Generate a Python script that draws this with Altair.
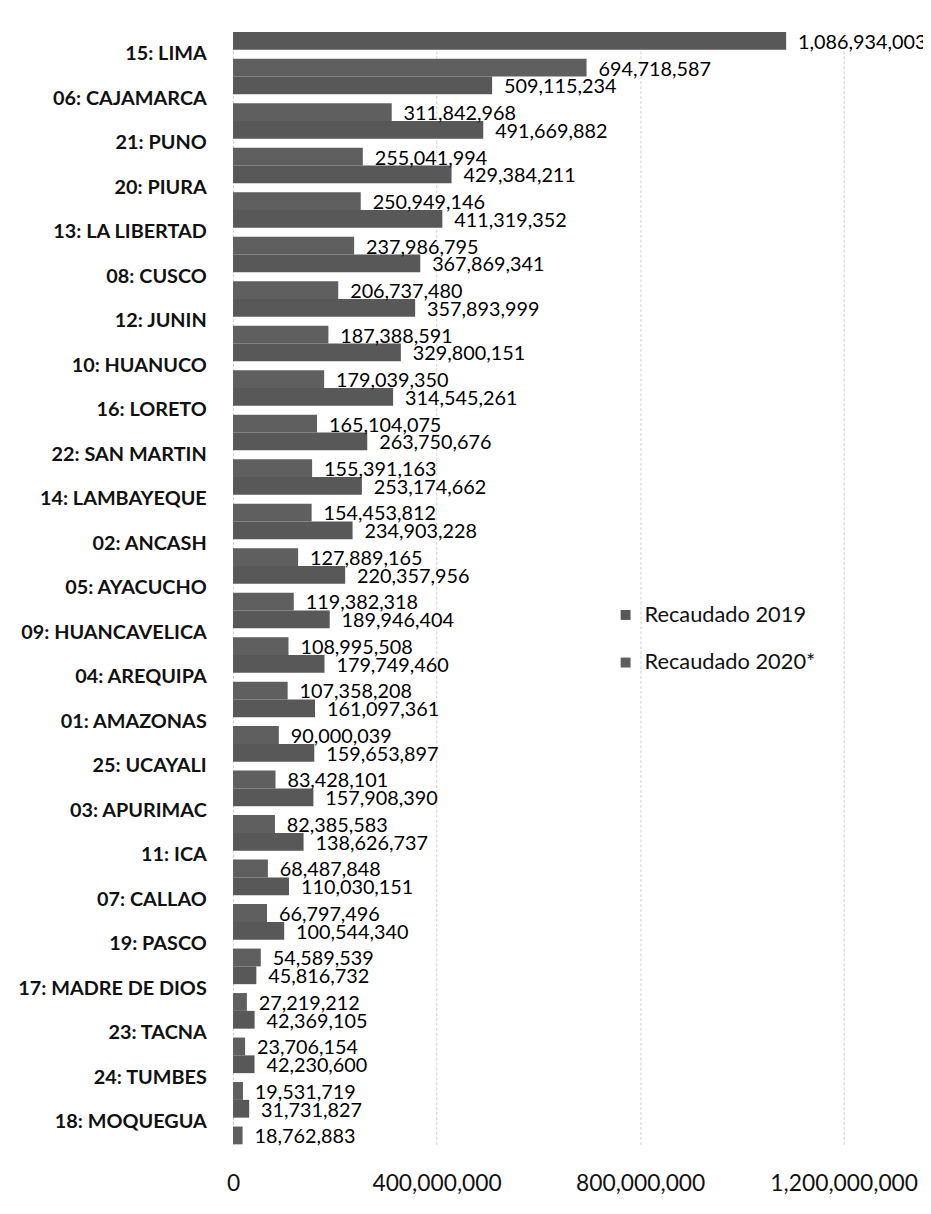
import altair as alt
import pandas as pd

categories = ["15: LIMA", "06: CAJAMARCA", "21: PUNO", "20: PIURA", "13: LA LIBERTAD",
              "08: CUSCO", "12: JUNIN", "10: HUANUCO", "16: LORETO", "22: SAN MARTIN",
              "14: LAMBAYEQUE", "02: ANCASH", "05: AYACUCHO", "09: HUANCAVELICA",
              "04: AREQUIPA", "01: AMAZONAS", "25: UCAYALI", "03: APURIMAC", "11: ICA",
              "07: CALLAO", "19: PASCO", "17: MADRE DE DIOS", "23: TACNA", "24: TUMBES",
              "18: MOQUEGUA"]

recaudado_2019 = [1086934003, 509115234, 491669882, 429384211, 411319352, 367869341,
                  357893999, 329800151, 314545261, 263750676, 253174662, 234903228,
                  220357956, 189946404, 179749460, 161097361, 159653897, 157908390,
                  138626737, 110030151, 100544340, 45816732, 42369105, 42230600, 31731827]

recaudado_2020 = [694718587, 311842968, 255041994, 250949146, 237986795, 206737480,
                  187388591, 179039350, 165104075, 155391163, 154453812, 127889165,
                  119382318, 108995508, 107358208, 90000039, 83428101, 82385583,
                  68487848, 66797496, 54589539, 27219212, 23706154, 19531719, 18762883]

series = ["Recaudado 2019", "Recaudado 2020*"]
tick_values = [0, 400000000, 800000000, 1200000000]

rows = []
for c, a, b in zip(categories, recaudado_2019, recaudado_2020):
    rows.append({"cat": c, "year": series[0], "value": a})
    rows.append({"cat": c, "year": series[1], "value": b})
df = pd.DataFrame(rows)

FONT = "Lato"

y_scale = alt.Scale(domain=categories, paddingInner=0, paddingOuter=0)
yoff_scale = alt.Scale(domain=series, paddingInner=0.333, paddingOuter=0)
x_scale = alt.Scale(domain=[0, 1200000000], nice=False)

y_axis = alt.Axis(title=None, ticks=False, domain=False, labelFont=FONT,
                  labelFontSize=20, labelFontWeight="bold", labelColor="#111111",
                  labelPadding=27, labelLimit=0)
x_axis = alt.Axis(title=None, values=tick_values, labelExpr="format(datum.value, ',')",
                  ticks=False, domain=False, labelFont=FONT, labelFontSize=23,
                  labelColor="#111111", labelPadding=29, labelFlush=False,
                  labelOverlap=False, grid=True,
                  gridColor="#d0d0d0", gridDash=[3, 2], gridWidth=1)

base = alt.Chart(df)

bars = base.mark_bar().encode(
    y=alt.Y("cat:N", sort=categories, scale=y_scale, axis=y_axis),
    yOffset=alt.YOffset("year:N", sort=series, scale=yoff_scale),
    x=alt.X("value:Q", scale=x_scale, axis=x_axis),
    color=alt.Color("year:N", sort=series,
                    scale=alt.Scale(domain=series, range=["#585858", "#5f5f5f"]),
                    legend=alt.Legend(title=None, orient="none", legendX=385, legendY=577,
                                      symbolType="square", symbolSize=100,
                                      symbolStrokeWidth=0, labelFont=FONT,
                                      labelFontSize=22, labelColor="#111111",
                                      rowPadding=26, labelOffset=8, labelLimit=0)),
)

labels = base.mark_text(align="left", baseline="middle", dx=12, dy=2, fontSize=20,
                        font=FONT, color="#000000").encode(
    y=alt.Y("cat:N", sort=categories, scale=y_scale, axis=y_axis),
    yOffset=alt.YOffset("year:N", sort=series, scale=yoff_scale),
    x=alt.X("value:Q", scale=x_scale, axis=x_axis),
    text=alt.Text("value:Q", format=","),
)

chart = alt.layer(bars, labels).properties(
    width=616,
    height=1122,
    autosize=alt.AutoSizeParams(type="none"),
    padding={"left": 227, "top": 19, "right": 80, "bottom": 65},
    background="white",
).configure_view(stroke=None)

chart.save("out.html", embed_options={"renderer": "svg", "actions": False})
